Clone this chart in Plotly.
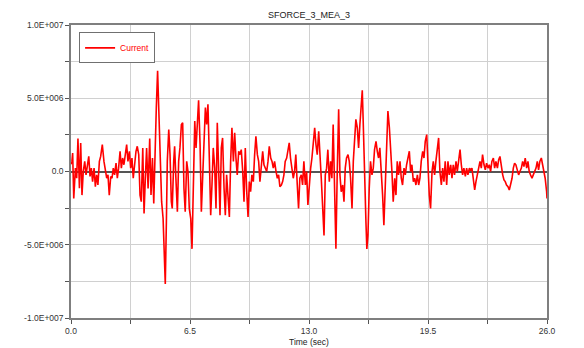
import plotly.graph_objects as go

# ---- data ----
time_s = [
    0.00, 0.05, 0.09, 0.15, 0.24, 0.31, 0.38, 0.46, 0.53, 0.60, 0.67, 0.75, 0.82, 0.89, 0.97,
    1.04, 1.11, 1.18, 1.26, 1.33, 1.40, 1.47, 1.55, 1.62, 1.71, 1.80, 1.88, 1.95, 2.02, 2.09,
    2.17, 2.24, 2.31, 2.38, 2.46, 2.53, 2.60, 2.68, 2.75, 2.82, 2.89, 2.97, 3.04, 3.11, 3.19,
    3.26, 3.33, 3.40, 3.48, 3.55, 3.62, 3.70, 3.77, 3.84, 3.92, 3.99, 4.06, 4.13, 4.21, 4.28,
    4.30, 4.37, 4.45, 4.52, 4.59, 4.66, 4.73, 4.81, 4.88, 4.95, 5.03, 5.10, 5.15, 5.21, 5.26,
    5.34, 5.41, 5.48, 5.53, 5.61, 5.66, 5.73, 5.81, 5.88, 5.95, 6.03, 6.10, 6.17, 6.24, 6.32,
    6.39, 6.46, 6.54, 6.61, 6.68, 6.76, 6.83, 6.90, 6.97, 7.05, 7.12, 7.19, 7.27, 7.34, 7.41,
    7.48, 7.56, 7.63, 7.70, 7.77, 7.85, 7.92, 7.99, 8.07, 8.14, 8.21, 8.28, 8.36, 8.43, 8.50,
    8.58, 8.65, 8.72, 8.79, 8.87, 8.94, 9.01, 9.08, 9.16, 9.23, 9.30, 9.38, 9.45, 9.52, 9.59,
    9.67, 9.74, 9.81, 9.88, 9.96, 10.03, 10.10, 10.18, 10.25, 10.32, 10.40, 10.47, 10.54, 10.61, 10.69,
    10.76, 10.83, 10.91, 10.98, 11.05, 11.12, 11.20, 11.27, 11.34, 11.41, 11.49, 11.56, 11.63, 11.70, 11.78,
    11.85, 11.92, 11.99, 12.07, 12.14, 12.21, 12.28, 12.36, 12.43, 12.50, 12.58, 12.65, 12.72, 12.80, 12.87,
    12.94, 13.02, 13.09, 13.16, 13.24, 13.31, 13.38, 13.45, 13.53, 13.60, 13.67, 13.74, 13.82, 13.89, 13.96,
    14.03, 14.11, 14.18, 14.25, 14.32, 14.40, 14.47, 14.54, 14.62, 14.69, 14.76, 14.84, 14.91, 14.98, 15.05,
    15.13, 15.20, 15.27, 15.35, 15.42, 15.49, 15.56, 15.64, 15.71, 15.78, 15.86, 15.91, 15.96, 16.04, 16.11,
    16.16, 16.22, 16.29, 16.36, 16.44, 16.51, 16.58, 16.66, 16.73, 16.80, 16.87, 16.95, 17.02, 17.09, 17.16,
    17.24, 17.31, 17.39, 17.46, 17.53, 17.60, 17.68, 17.75, 17.82, 17.89, 17.97, 18.04, 18.11, 18.19, 18.26,
    18.33, 18.40, 18.48, 18.55, 18.62, 18.70, 18.77, 18.84, 18.92, 18.99, 19.06, 19.13, 19.21, 19.28, 19.35,
    19.43, 19.50, 19.57, 19.64, 19.72, 19.79, 19.86, 19.93, 20.01, 20.08, 20.15, 20.23, 20.30, 20.37, 20.44,
    20.52, 20.59, 20.66, 20.74, 20.81, 20.88, 20.95, 21.03, 21.10, 21.17, 21.25, 21.32, 21.39, 21.46, 21.54,
    21.61, 21.68, 21.76, 21.83, 21.90, 21.98, 22.05, 22.12, 22.19, 22.27, 22.34, 22.41, 22.48, 22.56, 22.63,
    22.70, 22.78, 22.85, 22.92, 22.99, 23.07, 23.14, 23.21, 23.29, 23.36, 23.43, 23.50, 23.58, 23.65, 23.72,
    23.79, 23.87, 23.94, 24.01, 24.09, 24.16, 24.23, 24.30, 24.38, 24.45, 24.52, 24.60, 24.67, 24.74, 24.81,
    24.89, 24.96, 25.03, 25.10, 25.18, 25.25, 25.32, 25.40, 25.47, 25.54, 25.61, 25.69, 25.76, 25.83, 25.90,
    25.98, 26.00,
]

# force values in units of 1e6
current_e6 = [
    0.50, 0.69, 1.26, -1.84, 0.23, -0.46, 2.25, -1.15, 1.95, -1.61, 0.00, 0.69, -0.23, 0.46, 1.03,
    -0.34, 0.23, -0.69, 0.23, -1.03, -0.23, -0.92, 0.69, 1.03, 1.84, 0.69, 0.00, -0.46, -0.23, -1.61,
    -0.34, -0.46, 0.23, -0.23, 0.57, -0.46, 0.23, 1.38, 0.23, 0.92, 0.46, 1.38, 1.84, 0.69, 1.38,
    0.23, 0.92, -0.46, 0.57, 1.38, 1.72, 1.15, -1.61, -2.06, 1.61, -2.87, -0.46, 1.61, -1.15, 2.06,
    2.25, -1.61, 0.92, -2.18, 2.06, 4.36, 6.88, 2.98, -0.46, -2.06, -3.21, -5.28, -7.68, -3.44, 0.69,
    2.87, 1.15, -2.06, -2.52, 0.69, 1.72, -0.46, -2.75, 0.69, 1.61, 3.21, 3.33, -1.15, -2.75, 0.69,
    0.00, -2.52, -3.21, -5.28, -1.15, 3.44, 1.61, 3.67, 4.86, 1.84, -2.75, -0.46, 2.98, 4.36, 3.21,
    4.59, 0.69, -2.98, -0.92, 1.61, 0.23, -2.52, 3.33, -1.15, -2.98, 1.61, 2.29, -1.15, -2.98, -0.23,
    -2.06, -3.10, 0.69, 2.98, 0.69, 2.64, 0.92, -0.23, 1.38, 1.15, 1.49, 0.00, -2.06, 1.61, -1.15,
    -3.10, -0.69, -1.38, -0.23, -0.69, 1.15, 2.41, 1.15, 0.69, -0.69, 0.69, 1.38, 0.46, 0.23, 0.00,
    0.69, 1.72, 0.92, 0.69, 0.23, 0.69, 0.00, -0.46, -0.23, -1.03, -0.92, -0.69, -0.23, 0.69, 0.92,
    1.61, 1.95, 0.92, 0.00, -0.46, 0.00, 1.15, -0.92, -2.52, -0.46, -0.23, -0.92, 0.69, -0.92, 0.00,
    -2.29, -0.69, 0.23, 0.92, 2.29, 2.98, 1.84, 1.15, 2.75, 1.38, -0.46, -2.29, -4.36, -0.23, 0.23,
    1.49, -0.69, 0.69, -0.46, 3.21, -1.61, -5.28, -0.23, 4.24, -0.23, -1.38, -0.92, -2.06, 0.23, 0.92,
    1.15, 0.69, -0.46, -2.52, 0.69, 2.18, 3.56, 2.98, 1.61, 3.21, 4.59, 5.55, 3.44, -1.15, -3.44,
    -5.28, -4.36, -1.15, 0.69, -0.23, 0.23, 1.49, 2.06, 1.38, 0.92, 1.61, 0.23, -1.61, -3.67, -1.15,
    2.98, 4.13, 3.00, 1.84, 0.00, -2.06, -0.46, -1.61, 0.69, -0.23, 0.69, -0.46, -0.92, 0.23, -0.23,
    0.46, 0.92, 1.38, 0.00, 0.46, -0.69, -0.46, -0.92, -0.23, -0.92, -0.46, 0.69, 1.38, 0.92, 2.06,
    2.52, -0.23, -1.61, -2.52, 0.00, 0.69, -0.23, 0.69, 1.38, 2.29, 0.00, -0.92, 0.23, -0.69, 0.69,
    -0.92, 0.69, -0.23, 0.46, -0.46, 0.46, -0.23, 0.69, 0.00, 0.69, 1.49, 0.46, -0.23, 0.23, -0.34,
    0.23, -0.23, 0.23, 0.11, 0.23, -0.46, -1.26, -0.69, -0.23, 0.23, 0.69, 0.23, 1.15, 0.46, 0.11,
    0.57, 0.23, 0.46, 0.00, 0.69, 0.92, 0.23, 0.69, 0.23, 0.80, 1.03, 0.23, -0.23, -0.57, -0.69,
    -0.92, -1.03, -1.26, -0.92, -0.46, 0.23, 0.57, 0.46, 0.00, -0.23, 0.00, 0.23, 0.69, 0.34, 0.92,
    0.23, 0.69, 0.00, -0.23, -0.46, -0.23, 0.00, 0.23, 0.69, 0.11, 0.69, 0.92, 0.46, 0.00, -0.46,
    -1.38, -1.84,
]
current = [v * 1e6 for v in current_e6]

x_tickvals = [0.0, 3.25, 6.5, 9.75, 13.0, 16.25, 19.5, 22.75, 26.0]
x_ticktext = ["0.0", "", "6.5", "", "13.0", "", "19.5", "", "26.0"]
y_tickvals = [-1.0e7, -7.5e6, -5.0e6, -2.5e6, 0.0, 2.5e6, 5.0e6, 7.5e6, 1.0e7]
y_ticktext = ["-1.0E+007", "", "-5.0E+006", "", "0.0", "", "5.0E+006", "", "1.0E+007"]

FONT = "Liberation Sans, Arial, sans-serif"

# the page body adds an 8px offset; figure is sized so the plot lands at
# x 71..547, y 25..318 of the 584x348 window
W, H = 576, 340
ML, MR, MT, MB = 63, 37, 17, 30

fig = go.Figure()
fig.add_trace(go.Scatter(
    x=time_s, y=current, mode="lines", name="Current",
    line=dict(color="#ff0000", width=1.6),
))

axis_common = dict(
    showgrid=True, gridcolor="#d0d0d0", gridwidth=1,
    showline=True, linecolor="#7f7f7f", linewidth=1.5, mirror=True,
    ticks="outside", ticklen=4, tickcolor="#555555",
    tickfont=dict(family=FONT, size=8.5, color="#333333"),
    automargin=False,
)

fig.update_layout(
    width=W, height=H,
    margin=dict(l=ML, r=MR, t=MT, b=MB),
    paper_bgcolor="white", plot_bgcolor="white",
    title=dict(text="SFORCE_3_MEA_3", x=(ML + (W - MR)) / 2 / W, xanchor="center",
               y=1 - 7 / H, yanchor="middle",
               font=dict(family=FONT, size=9, color="#222222")),
    showlegend=True,
    legend=dict(x=0.017, y=0.975, xanchor="left", yanchor="top",
                bgcolor="white", bordercolor="#707070", borderwidth=1,
                font=dict(family=FONT, size=8.5, color="#ff0000"),
                itemwidth=30, tracegroupgap=0),
    xaxis=dict(range=[0, 26], tickvals=x_tickvals, ticktext=x_ticktext,
               zeroline=False, **axis_common),
    yaxis=dict(range=[-1e7, 1e7], tickvals=y_tickvals, ticktext=y_ticktext,
               zeroline=True, zerolinecolor="#555555", zerolinewidth=1.5,
               **axis_common),
    annotations=[dict(text="Time (sec)", xref="paper", yref="paper", x=0.5, y=0,
                      xanchor="center", yanchor="top", yshift=-17, showarrow=False,
                      font=dict(family=FONT, size=8.5, color="#222222"))],
)

fig.write_html("out.html")
